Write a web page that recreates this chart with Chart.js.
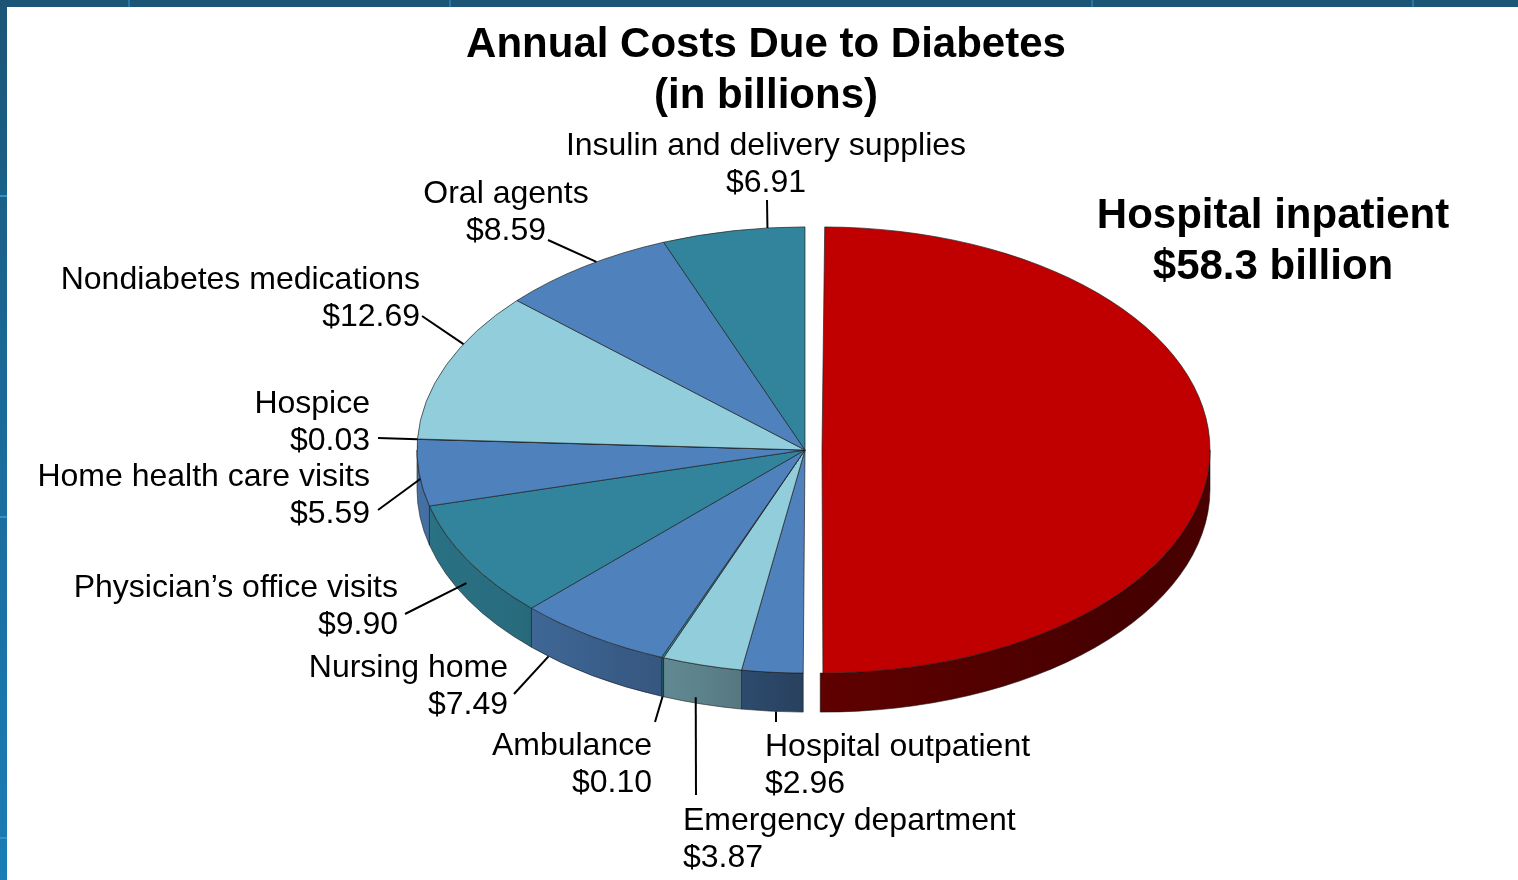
<!DOCTYPE html>
<html>
<head>
<meta charset="utf-8">
<title>Annual Costs Due to Diabetes</title>
<script src="https://cdn.jsdelivr.net/npm/chart.js@4.4.1/dist/chart.umd.min.js"></script>
<style>
  html, body { margin: 0; padding: 0; width: 1518px; height: 880px; overflow: hidden; background: #ffffff; }
  .band-top { position: absolute; left: 0; top: 0; width: 1518px; height: 7px; background: #1b5677; }
  .band-left { position: absolute; left: 0; top: 0; width: 7px; height: 880px;
               background: linear-gradient(to bottom, #1b5677 0%, #1a6a98 45%, #1a7db6 100%); }
  .tick-v { position: absolute; top: 0; width: 2px; height: 7px; background: #2a75a3; }
  .tick-h { position: absolute; left: 0; width: 7px; height: 2px; background: #3390c8; }
  #chart { position: absolute; left: 0; top: 0; }
</style>
</head>
<body>
<div class="band-top"></div>
<div class="band-left"></div>
<div class="tick-v" style="left:128px"></div>
<div class="tick-v" style="left:449px"></div>
<div class="tick-v" style="left:1091px"></div>
<div class="tick-v" style="left:1412px"></div>
<div class="tick-h" style="top:195px"></div>
<div class="tick-h" style="top:516px"></div>
<div class="tick-h" style="top:837px"></div>
<canvas id="chart" width="1518" height="880"></canvas>
<script>
// ---- data ----
const categories = [
  'Hospital inpatient',
  'Hospital outpatient',
  'Emergency department',
  'Ambulance',
  'Nursing home',
  'Physician\u2019s office visits',
  'Home health care visits',
  'Hospice',
  'Nondiabetes medications',
  'Oral agents',
  'Insulin and delivery supplies'
];
const costs = [58.3, 2.96, 3.87, 0.10, 7.49, 9.90, 5.59, 0.03, 12.69, 8.59, 6.91];
const titleLines = ['Annual Costs Due to Diabetes', '(in billions)'];

// ---- styling ----
const sliceColors = ['#c00000', '#4f81bd', '#92cddc', '#31849b', '#4f81bd', '#31849b',
                     '#4f81bd', '#31849b', '#92cddc', '#4f81bd', '#31849b'];
const explodeOffsets = [68, 0, 0, 0, 0, 0, 0, 0, 0, 0, 0];
const TILT = 0.575;      // vertical squash of the pie disc
const DEPTH = 39;        // thickness of the disc in px
const FONT = '"Liberation Sans", Arial, Helvetica, sans-serif';

// label placement: text anchor, first baseline, leader start and where the leader meets the slice
// (t = position across the slice, z = 0 top rim .. 1 bottom of the side wall)
const labelLayout = [
  { align: 'center', x: 1273, y: 228, bold: true, lead: null },
  { align: 'left',   x: 765,  y: 755.5, lead: { from: [776, 722], t: 0.44, z: 1 } },
  { align: 'left',   x: 683,  y: 829.5, lead: { from: [696, 795], t: 0.58, z: 0.85 } },
  { align: 'right',  x: 652,  y: 754.5, lead: { from: [655, 722], t: 0.5,  z: 1 } },
  { align: 'right',  x: 508,  y: 676.5, lead: { from: [514, 694], t: 0.85, z: 1 } },
  { align: 'right',  x: 398,  y: 596.5, lead: { from: [405, 614], t: 0.52, z: 0.62 } },
  { align: 'right',  x: 370,  y: 485.5, lead: { from: [378, 510], t: 0.41, z: 0 } },
  { align: 'right',  x: 370,  y: 412.5, lead: { from: [378, 438], t: 0.5,  z: 0 } },
  { align: 'right',  x: 420,  y: 288.5, lead: { from: [422, 316], t: 0.65, z: 0 } },
  { align: 'center', x: 506,  y: 202.5, lead: { from: [548, 240], t: 0.58, z: 0 } },
  { align: 'center', x: 766,  y: 154.5, lead: { from: [767, 200], t: 0.74, z: 0 } }
];

function valueText(i) {
  return i === 0 ? '$' + costs[i] + ' billion' : '$' + costs[i].toFixed(2);
}

// side wall brightness by angle (degrees, 0 = right, 90 = front, 180 = left)
const shadeStops = [[0, 0.40], [40, 0.36], [90, 0.50], [105, 0.63], [125, 0.75], [140, 0.82], [180, 0.88]];
function shadeAt(a) {
  const d = a * 180 / Math.PI;
  if (d <= shadeStops[0][0]) return shadeStops[0][1];
  for (let k = 1; k < shadeStops.length; k++) {
    const [d1, f1] = shadeStops[k];
    const [d0, f0] = shadeStops[k - 1];
    if (d <= d1) return f0 + (f1 - f0) * (d - d0) / (d1 - d0);
  }
  return shadeStops[shadeStops.length - 1][1];
}
function shade(hex, f) {
  const n = parseInt(hex.slice(1), 16);
  const r = Math.round(((n >> 16) & 255) * f);
  const g = Math.round(((n >> 8) & 255) * f);
  const b = Math.round((n & 255) * f);
  return 'rgb(' + r + ',' + g + ',' + b + ')';
}

// on-screen ellipse of one slice, as drawn by the arc element under the tilt transform
function sliceGeom(arc) {
  const o = (arc.options.offset || 0) / 4;
  const half = (arc.startAngle + arc.endAngle) / 2;
  const fix = 1 - Math.sin(Math.min(Math.PI, arc.circumference || 0));
  const r = arc.outerRadius + o * fix;
  return {
    cx: arc.x + Math.cos(half) * o,
    cy: arc.y + Math.sin(half) * o * TILT,
    rx: r, ry: r * TILT,
    a1: arc.startAngle, a2: arc.endAngle
  };
}

function drawSide(ctx, g, color) {
  const s = Math.max(g.a1, 0), e = Math.min(g.a2, Math.PI);
  if (e <= s) return;
  const xs = g.cx + g.rx * Math.cos(s), xe = g.cx + g.rx * Math.cos(e);
  const x0 = Math.min(xs, xe), x1 = Math.max(xs, xe);
  let fill;
  if (x1 - x0 < 1) {
    fill = shade(color, shadeAt((s + e) / 2));
  } else {
    fill = ctx.createLinearGradient(x0, 0, x1, 0);
    const N = 12;
    for (let k = 0; k <= N; k++) {
      const a = s + (e - s) * k / N;
      const x = g.cx + g.rx * Math.cos(a);
      const pos = Math.min(1, Math.max(0, (x - x0) / (x1 - x0)));
      fill.addColorStop(pos, shade(color, shadeAt(a)));
    }
  }
  ctx.beginPath();
  ctx.ellipse(g.cx, g.cy, g.rx, g.ry, 0, s, e, false);
  ctx.ellipse(g.cx, g.cy + DEPTH, g.rx, g.ry, 0, e, s, true);
  ctx.closePath();
  ctx.fillStyle = fill;
  ctx.fill();
  ctx.lineWidth = 0.8;
  ctx.strokeStyle = 'rgba(20,20,20,0.7)';
  ctx.stroke();
}

// keeps the exploded slice the same size as the rest
const explodeRadiusFix = {
  id: 'explodeRadiusFix',
  afterDatasetUpdate(chart, args) {
    args.meta.data.forEach(arc => {
      const o = (arc.options.offset || 0) / 4;
      if (!o) return;
      const fix = 1 - Math.sin(Math.min(Math.PI, arc.circumference || 0));
      arc.outerRadius -= o * fix;
    });
  }
};

// draws the disc thickness and squashes the pie into a tilted disc
const pie3d = {
  id: 'pie3d',
  beforeDatasetsDraw(chart) {
    const ctx = chart.ctx;
    const meta = chart.getDatasetMeta(0);
    meta.data.forEach((arc, i) => drawSide(ctx, sliceGeom(arc), sliceColors[i]));
    const c = meta.data[0];
    ctx.save();
    ctx.translate(c.x, c.y);
    ctx.scale(1, TILT);
    ctx.translate(-c.x, -c.y);
  },
  afterDatasetsDraw(chart) {
    chart.ctx.restore();
  }
};

// title, slice labels and leader lines
const pieLabels = {
  id: 'pieLabels',
  afterDraw(chart) {
    const ctx = chart.ctx;
    const meta = chart.getDatasetMeta(0);
    ctx.save();
    ctx.fillStyle = '#000';
    ctx.textBaseline = 'alphabetic';

    ctx.font = 'bold 42px ' + FONT;
    ctx.textAlign = 'center';
    ctx.fillText(titleLines[0], 766, 57);
    ctx.fillText(titleLines[1], 766, 108);

    labelLayout.forEach((L, i) => {
      const lineH = L.bold ? 51 : 37;
      ctx.font = (L.bold ? 'bold 42px ' : '32px ') + FONT;
      ctx.textAlign = L.align;
      ctx.fillText(categories[i], L.x, L.y);
      ctx.fillText(valueText(i), L.x, L.y + lineH);
      if (L.lead) {
        const g = sliceGeom(meta.data[i]);
        const a = g.a1 + L.lead.t * (g.a2 - g.a1);
        const px = g.cx + g.rx * Math.cos(a);
        const py = g.cy + g.ry * Math.sin(a) + L.lead.z * DEPTH;
        ctx.beginPath();
        ctx.moveTo(L.lead.from[0], L.lead.from[1]);
        ctx.lineTo(px, py);
        ctx.lineWidth = 2;
        ctx.strokeStyle = '#000';
        ctx.stroke();
      }
    });
    ctx.restore();
  }
};

new Chart(document.getElementById('chart'), {
  type: 'pie',
  data: {
    labels: categories,
    datasets: [{
      data: costs,
      backgroundColor: sliceColors,
      borderColor: 'rgba(30,30,30,0.85)',
      borderWidth: 1,
      offset: explodeOffsets,
      clip: false
    }]
  },
  options: {
    responsive: false,
    animation: false,
    events: [],
    radius: 388,
    layout: { padding: { left: 92, right: 0, top: 20, bottom: 0 } },
    plugins: {
      legend: { display: false },
      tooltip: { enabled: false },
      title: { display: false }
    }
  },
  plugins: [explodeRadiusFix, pie3d, pieLabels]
});
</script>
</body>
</html>
